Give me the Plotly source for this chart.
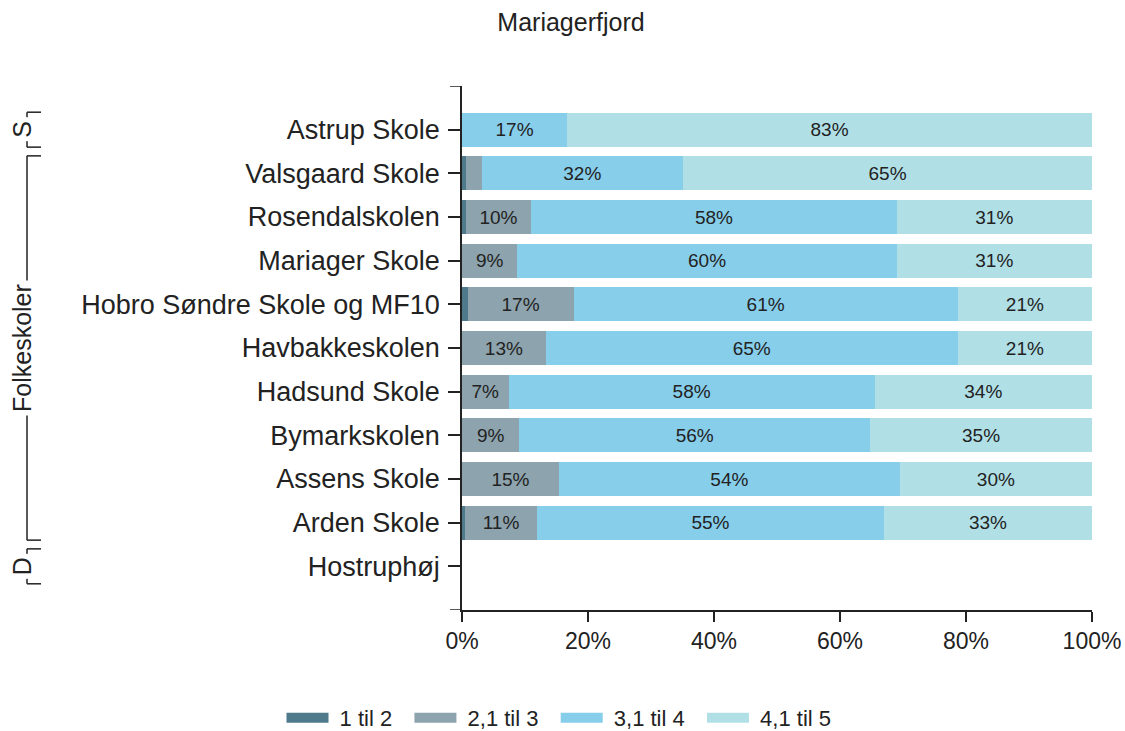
import plotly.graph_objects as go

# schools, top to bottom as shown
schools = ['Astrup Skole', 'Valsgaard Skole', 'Rosendalskolen', 'Mariager Skole',
           'Hobro Søndre Skole og MF10', 'Havbakkeskolen', 'Hadsund Skole',
           'Bymarkskolen', 'Assens Skole', 'Arden Skole', 'Hostruphøj']
school_type = ['S', 'Folkeskoler', 'Folkeskoler', 'Folkeskoler', 'Folkeskoler',
               'Folkeskoler', 'Folkeskoler', 'Folkeskoler', 'Folkeskoler',
               'Folkeskoler', 'D']

# share of pupils (%) per grade band
band_1_2 = [0.0, 0.6, 0.6, 0.0, 0.9, 0.0, 0.0, 0.0, 0.0, 0.5, None]
band_21_3 = [0.0, 2.5, 10.4, 8.8, 16.8, 13.3, 7.4, 9.1, 15.4, 11.4, None]
band_31_4 = [16.7, 32.0, 58.0, 60.2, 61.0, 65.4, 58.1, 55.7, 54.1, 55.1, None]
band_41_5 = [83.3, 64.9, 31.0, 31.0, 21.3, 21.3, 34.5, 35.2, 30.5, 33.0, None]

bands = [('1 til 2', band_1_2, '#4e7a8c'),
         ('2,1 til 3', band_21_3, '#8da3ad'),
         ('3,1 til 4', band_31_4, '#87ceeb'),
         ('4,1 til 5', band_41_5, '#b0e0e6')]
xticks = [0, 20, 40, 60, 80, 100]

font = 'Liberation Sans, Arial, sans-serif'
ink = '#222222'
nb = '\u00a0'
W, H = 1125, 731
L, T, R, B = 462, 86, 33, 121
plot_w = W - L - R


def px(p):
    # pixel from figure left -> paper x
    return (p - L) / plot_w


fig = go.Figure()
for name, vals, col in bands:
    text = ['%d%%' % round(v) if v is not None and v >= 5 else '' for v in vals]
    fig.add_trace(go.Bar(y=schools, x=vals, name=name, orientation='h', marker_color=col,
                         marker_line_width=0, text=text, textposition='inside',
                         insidetextanchor='middle', textangle=0,
                         textfont=dict(family=font, size=19, color=ink),
                         hoverinfo='x+y', showlegend=False, legendgroup=name))
    # wide legend key like the original
    fig.add_trace(go.Scatter(x=[None], y=[None], mode='lines', name=nb + name + nb * 2, legendgroup=name,
                             line=dict(color=col, width=13), hoverinfo='skip'))

# group brackets on the left
shapes = []
annotations = []
groups = []
for i, g in enumerate(school_type):
    if groups and groups[-1][0] == g:
        groups[-1][2] = i
    else:
        groups.append([g, i, i])
inset = 0.1
ln = dict(color=ink, width=1.5)
for g, i0, i1 in groups:
    y0, y1 = i0 - 0.5 + inset, i1 + 0.5 - inset
    shapes.append(dict(type='line', xref='paper', yref='y', x0=px(27), x1=px(27), y0=y0, y1=y1, line=ln))
    shapes.append(dict(type='line', xref='paper', yref='y', x0=px(27), x1=px(41), y0=y0, y1=y0, line=ln))
    shapes.append(dict(type='line', xref='paper', yref='y', x0=px(27), x1=px(41), y0=y1, y1=y1, line=ln))
    annotations.append(dict(text=g, xref='paper', yref='y', x=px(22), y=(i0 + i1) / 2, showarrow=False,
                            xanchor='center', yanchor='middle', textangle=-90, bgcolor='white', borderpad=3,
                            font=dict(family=font, size=25, color=ink)))

# ticks at both ends of the category axis
n = len(schools)
for yv in (-1, n):
    shapes.append(dict(type='line', xref='paper', yref='y', x0=px(L - 12), x1=0, y0=yv, y1=yv, line=ln))

fig.update_layout(
    width=W, height=H,
    margin=dict(l=L, r=R, t=T, b=B, autoexpand=False),
    paper_bgcolor='white', plot_bgcolor='white',
    barmode='stack', bargap=0.22,
    title=dict(text='Mariagerfjord', x=571 / W, xanchor='center', y=1 - 22 / H, yanchor='middle',
               font=dict(family=font, size=25, color=ink)),
    font=dict(family=font, color=ink),
    legend=dict(orientation='h', xref='container', yref='container', x=565 / W, xanchor='center',
                y=1 - 718 / H, yanchor='middle',
                font=dict(family=font, size=22), traceorder='normal', itemwidth=42),
    shapes=shapes, annotations=annotations,
    showlegend=True,
)
fig.update_xaxes(range=[0, 100], tickmode='array', tickvals=xticks, ticktext=['%d%%' % v for v in xticks],
                 automargin=False, ticklabeloverflow='allow',
                 showgrid=False, zeroline=False, showline=True, linecolor=ink, linewidth=1.5,
                 ticks='outside', ticklen=10, tickwidth=1.5, tickcolor=ink,
                 tickfont=dict(family=font, size=23))
fig.update_yaxes(type='category', categoryarray=schools, categoryorder='array', range=[n, -1],
                 automargin=False,
                 showgrid=False, zeroline=False, showline=True, linecolor=ink, linewidth=1.5,
                 ticks='outside', ticklen=12, tickwidth=1.5, tickcolor=ink, ticklabelstandoff=3,
                 tickfont=dict(family=font, size=27))

# drop the default page margin so the figure fills the window exactly
fig.write_html('out.html', config={'displayModeBar': False},
               post_script="document.body.style.margin='0';document.body.style.overflow='hidden';")
